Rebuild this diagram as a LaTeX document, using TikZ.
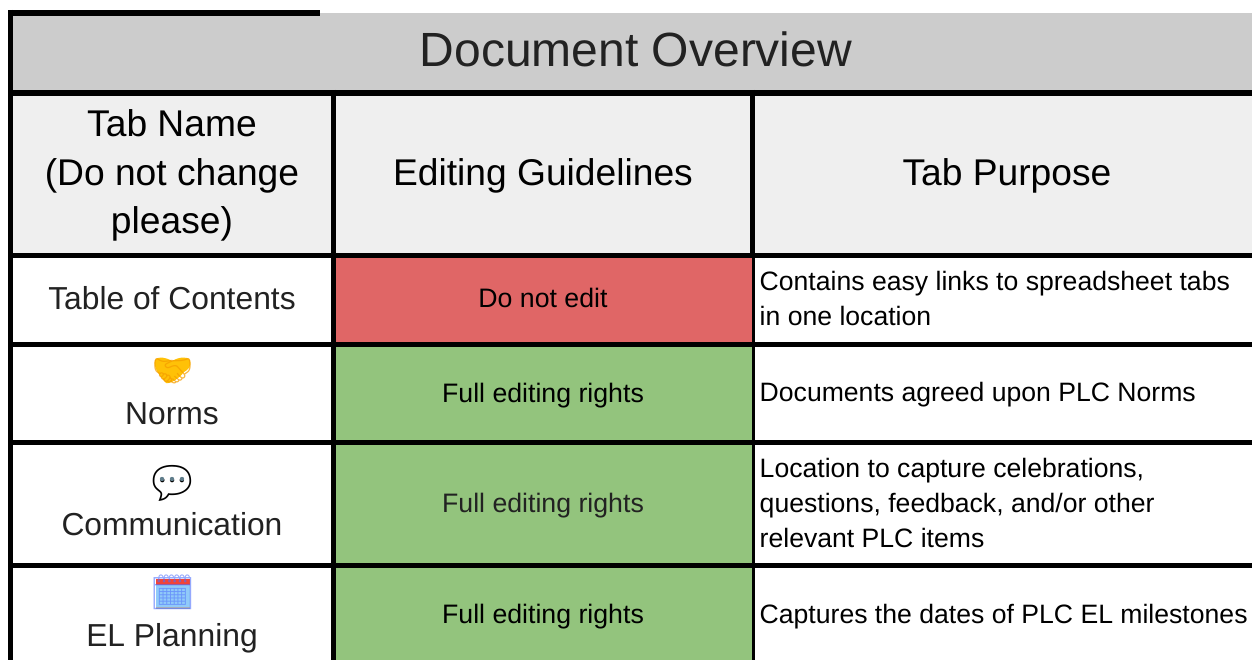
\documentclass[tikz,border=0pt]{standalone}
\usepackage{fontspec}
\setmainfont{Liberation Sans}
\newfontfamily\emojifont{Noto Emoji}
\definecolor{titlegray}{HTML}{CCCCCC}
\definecolor{headgray}{HTML}{EFEFEF}
\definecolor{redcell}{HTML}{E06666}
\definecolor{greencell}{HTML}{93C47D}
\definecolor{inkgray}{HTML}{222222}
\definecolor{amber}{HTML}{FFC107}
\definecolor{amberdark}{HTML}{F59E00}
\definecolor{calblue}{HTML}{90CAF9}
\definecolor{calred}{HTML}{F44336}
\definecolor{dotgray}{HTML}{607D8B}
\tikzset{
  x=1pt,y=-1pt,
  rule/.style={line width=#1,black,line cap=butt},
  titletext/.style={font=\fontsize{48}{56}\selectfont,text=inkgray,inner sep=0},
  headtext/.style={font=\fontsize{37.2}{48.5}\selectfont,text=black,inner sep=0,align=center},
  nametext/.style={font=\fontsize{31.8}{38}\selectfont,text=inkgray,inner sep=0,align=center},
  guidetext/.style={font=\fontsize{26.7}{32}\selectfont,text=black,inner sep=0},
  purposetext/.style={font=\fontsize{26.6}{34.7}\selectfont,text=black,inner sep=0,align=left,anchor=west},
  emojitext/.style={font=\emojifont\fontsize{34}{34}\selectfont,inner sep=0},
}
\begin{document}
\begin{tikzpicture}
\useasboundingbox (0,0) rectangle (1252,660);
% background fills
\fill[titlegray] (13,13) rectangle (1252,92);
\fill[headgray] (13,96) rectangle (1252,254);
% vertical rules
\draw[rule=6] (8,13) -- (320,13);
\draw[rule=5] (10.5,10) -- (10.5,660);
\draw[rule=5] (333.5,90) -- (333.5,660);
\draw[rule=5] (752.5,90) -- (752.5,660);
% coloured cells overlap the second vertical rule
\fill[redcell] (336,258) rectangle (752.4,342);
\fill[greencell] (336,346) rectangle (752.2,660);
% horizontal rules
\draw[rule=5.5] (8,93) -- (1252,93);
\draw[rule=5] (8,255.8) -- (1252,255.8);
\draw[rule=5] (8,344) -- (1252,344);
\draw[rule=5] (8,442.5) -- (1252,442.5);
\draw[rule=5] (8,565.5) -- (1252,565.5);
% title and header
\node[titletext] (title) at (636,49) {Document Overview};
\node[headtext] (h1) at (172,175.5) {Tab Name\\(Do not change\\please)};
\node[headtext] (h2) at (543,175.5) {Editing Guidelines};
\node[headtext] (h3) at (1007,175.5) {Tab Purpose};
% first column
\node[nametext] (n1) at (172,298.5) {Table of Contents};
\fill[amber] (155,360) .. controls (158,356) and (165,357) .. (172,361)
  .. controls (179,357) and (187,356) .. (190,360)
  .. controls (192,366) and (188,370) .. (184,372)
  .. controls (180,377) and (172,384) .. (166,383)
  .. controls (160,376) and (153,368) .. (155,360) -- cycle;
\node[emojitext,text=amberdark,opacity=.75,font=\emojifont\fontsize{33}{33}\selectfont] (e2) at (172.5,371) {🤝};
\node[nametext] (n2) at (172,414) {Norms};
\node[emojitext,text=black,font=\emojifont\fontsize{44}{44}\selectfont] (e3) at (172,483) {💬};
\fill[dotgray] (162,479) circle (2.2) (172,479) circle (2.2) (182,479) circle (2.2);
\node[nametext] (n3) at (172,524) {Communication};
\fill[black!30] (156,586) rectangle (190,609);
\fill[calblue] (156,585) rectangle (190,606.5);
\fill[calred] (155.5,578.5) rectangle (190,585);
\node[emojitext,text=blue!45!calblue,opacity=.6,font=\emojifont\fontsize{36}{36}\selectfont] (e4) at (172.5,592) {🗓};
\node[nametext] (n4) at (172,638) {EL Planning};
% second column
\node[guidetext] (g1) at (543,298) {Do not edit};
\node[guidetext] (g2) at (543,395.5) {Full editing rights};
\node[guidetext,text=inkgray] (g3) at (543,505.5) {Full editing rights};
\node[guidetext] (g4) at (543,616.5) {Full editing rights};
% third column
\node[purposetext] (p1) at (759.5,298.5) {Contains easy links to spreadsheet tabs\\in one location};
\node[purposetext] (p2) at (759.5,394.5) {Documents agreed upon PLC Norms};
\node[purposetext] (p3) at (759.5,503) {Location to capture celebrations,\\questions, feedback, and/or other\\relevant PLC items};
\node[purposetext] (p4) at (759.5,616.5) {Captures the dates of PLC EL milestones};
\end{tikzpicture}
\end{document}
